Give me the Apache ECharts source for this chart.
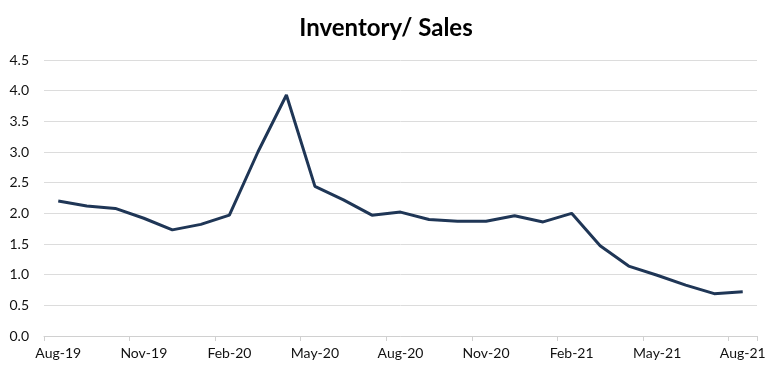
<!DOCTYPE html>
<html><head><meta charset="utf-8">
<script src="https://cdn.jsdelivr.net/npm/echarts@6/dist/echarts.min.js"></script>
<style>html,body{margin:0;padding:0;background:#fff}#c{width:772px;height:374px}</style>
</head><body><div id="c"></div>
<script>
const categories = ["Aug-19","Sep-19","Oct-19","Nov-19","Dec-19","Jan-20","Feb-20","Mar-20","Apr-20","May-20","Jun-20","Jul-20","Aug-20","Sep-20","Oct-20","Nov-20","Dec-20","Jan-21","Feb-21","Mar-21","Apr-21","May-21","Jun-21","Jul-21","Aug-21"];
const ratio = [2.20,2.12,2.08,1.92,1.73,1.82,1.97,3.00,3.93,2.44,2.22,1.97,2.02,1.90,1.87,1.87,1.96,1.86,2.00,1.47,1.14,0.99,0.83,0.69,0.72];
const chart = echarts.init(document.getElementById('c'));
chart.setOption({
  animation:false,
  title:{text:'Inventory/ Sales',left:'center',top:11,textStyle:{fontFamily:'Lato',fontWeight:'bold',fontSize:24,color:'#000'}},
  grid:{left:44,right:15,top:60,bottom:38},
  xAxis:{type:'category',data:categories,boundaryGap:true,
    axisLine:{lineStyle:{color:'#d0d0d0',width:1}},
    axisTick:{show:true,interval:2,length:5,lineStyle:{color:'#d0d0d0'}},
    axisLabel:{interval:2,color:'#111',fontFamily:'Lato',fontSize:14,margin:10}},
  yAxis:{type:'value',min:0,max:4.5,interval:0.5,
    axisLine:{show:false},axisTick:{show:false},
    splitLine:{lineStyle:{color:'#dcdcdc',width:1}},
    axisLabel:{color:'#111',fontFamily:'Lato',fontSize:14,margin:15,formatter:v=>v.toFixed(1)}},
  series:[{type:'line',data:ratio,symbol:'none',lineStyle:{color:'#1f3656',width:3}}]
});
</script></body></html>
